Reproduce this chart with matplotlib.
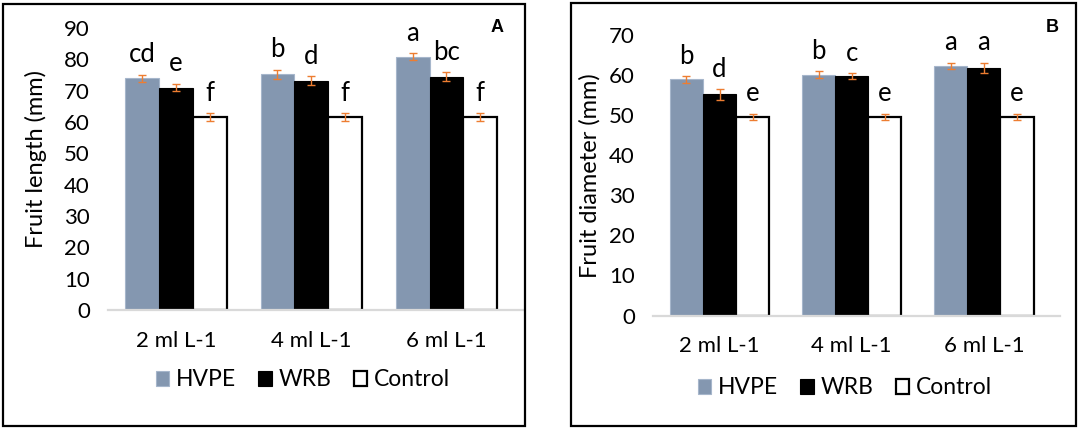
import matplotlib
matplotlib.use('Agg')
import matplotlib.pyplot as plt
import numpy as np
from matplotlib.patches import Rectangle

plt.rcParams['font.family'] = ['Lato', 'DejaVu Sans']

cats = ['2 ml L-1', '4 ml L-1', '6 ml L-1']
series = ['HVPE', 'WRB', 'Control']

# panel A - fruit length
hvpe_len = [73.9, 75.2, 80.9]
wrb_len = [71.0, 73.2, 74.5]
ctrl_len = [61.5, 61.5, 61.5]
hvpe_len_err = [1.1, 1.5, 1.0]
wrb_len_err = [1.2, 1.4, 1.3]
ctrl_len_err = [1.3, 1.3, 1.3]
hvpe_len_lbl = ['cd', 'b', 'a']
wrb_len_lbl = ['e', 'd', 'bc']
ctrl_len_lbl = ['f', 'f', 'f']

# panel B - fruit diameter
hvpe_dia = [58.9, 60.1, 62.3]
wrb_dia = [55.2, 59.8, 61.8]
ctrl_dia = [49.6, 49.6, 49.6]
hvpe_dia_err = [0.8, 0.9, 0.8]
wrb_dia_err = [1.3, 0.7, 1.3]
ctrl_dia_err = [0.7, 0.7, 0.7]
hvpe_dia_lbl = ['b', 'b', 'a']
wrb_dia_lbl = ['d', 'c', 'a']
ctrl_dia_lbl = ['e', 'e', 'e']

W, H = 1084, 430
fig = plt.figure(figsize=(W / 100, H / 100), dpi=100)

styles = [dict(color='#8497B0', edgecolor='#A6B6CB', linewidth=0.8),
          dict(color='black', edgecolor='black', linewidth=0.8),
          dict(color='white', edgecolor='black', linewidth=1.6)]


def panel(rect, vals, errs, lbls, ymax, ylabel, ylab_xy, tag, tagxy, legx, legy, xlim):
    ax = fig.add_axes(rect)
    x = np.arange(len(cats))
    bw = 0.25
    handles = []
    for i, (v, e, l) in enumerate(zip(vals, errs, lbls)):
        pos = x + (i - 1) * bw
        b = ax.bar(pos, v, bw, label=series[i], zorder=2, **styles[i])
        handles.append(b)
        ax.errorbar(pos, v, yerr=e, fmt='none', ecolor='#ED7D31', elinewidth=1,
                    capsize=3.2, capthick=1, zorder=4)
        for p, vv, ee, t in zip(pos, v, e, l):
            ax.annotate(t, (p, vv + ee), xytext=(0, 9), textcoords='offset points',
                        ha='center', va='baseline', fontsize=18.5)
    ax.set_xlim(*xlim)
    ax.set_ylim(0, ymax)
    ax.set_yticks(np.arange(0, ymax + 1, 10))
    ax.set_xticks(x)
    ax.set_xticklabels(cats)
    ax.tick_params(axis='y', length=0, pad=13, labelsize=16)
    ax.tick_params(axis='x', length=0, pad=15, labelsize=16)
    for s in ['top', 'right', 'left']:
        ax.spines[s].set_visible(False)
    ax.spines['bottom'].set_color('#D9D9D9')
    ax.spines['bottom'].set_linewidth(1.6)
    ax.spines['bottom'].set_zorder(5)
    fig.text(ylab_xy[0] / W, 1 - ylab_xy[1] / H, ylabel, rotation=90,
             ha='center', va='center', fontsize=17)
    fig.text(tagxy[0] / W, 1 - tagxy[1] / H, tag, fontsize=13, fontweight='bold',
             family='Liberation Sans', ha='center', va='center')
    fig.legend(handles=handles, labels=series, loc='center',
               bbox_to_anchor=(legx / W, 1 - legy / H), ncol=3, frameon=False,
               fontsize=16.5, handlelength=0.6, handleheight=0.65,
               handletextpad=0.3, columnspacing=0.95)
    return ax


axA = panel([108 / W, 1 - 310 / H, 415 / W, 282 / H],
            [hvpe_len, wrb_len, ctrl_len],
            [hvpe_len_err, wrb_len_err, ctrl_len_err],
            [hvpe_len_lbl, wrb_len_lbl, ctrl_len_lbl],
            90, 'Fruit length (mm)', (36, 159), 'A', (497, 28), 303, 380,
            (-0.503, 2.566))

axB = panel([653 / W, 1 - 315.5 / H, 407 / W, 280.5 / H],
            [hvpe_dia, wrb_dia, ctrl_dia],
            [hvpe_dia_err, wrb_dia_err, ctrl_dia_err],
            [hvpe_dia_lbl, wrb_dia_lbl, ctrl_dia_lbl],
            70, 'Fruit diameter (mm)', (590, 176), 'B', (1052, 28), 845, 388,
            (-0.503, 2.575))

# panel frames
for (x0, y0, x1, y1) in [(3, 4, 525, 426), (571, 3, 1076, 426)]:
    fig.patches.append(Rectangle((x0 / W, 1 - y1 / H), (x1 - x0) / W, (y1 - y0) / H,
                                 transform=fig.transFigure, fill=False,
                                 edgecolor='black', linewidth=1.6))

fig.savefig('out.png', dpi=100)
